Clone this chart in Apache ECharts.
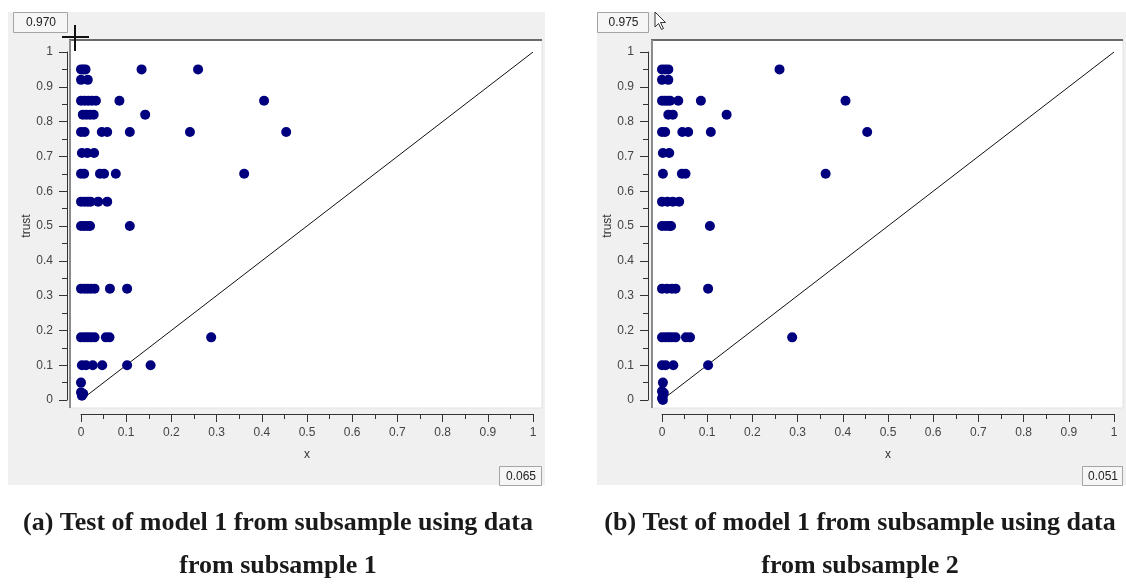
<!DOCTYPE html>
<html><head><meta charset="utf-8">
<script src="https://cdn.jsdelivr.net/npm/echarts@6/dist/echarts.min.js"></script>
<style>html,body{margin:0;padding:0;background:#fff}#c{width:1126px;height:588px}</style>
</head><body><div id="c"></div>
<script>
// ---- data ----
// panel (a): [x, trust]
const panelA = [
  [0,0.95],[0.005,0.95],[0.01,0.95],[0.134,0.95],[0.259,0.95],
  [0,0.92],[0.015,0.92],
  [0,0.86],[0.008,0.86],[0.016,0.86],[0.024,0.86],[0.033,0.86],[0.085,0.86],[0.405,0.86],
  [0.004,0.82],[0.012,0.82],[0.02,0.82],[0.028,0.82],[0.142,0.82],
  [0,0.77],[0.008,0.77],[0.046,0.77],[0.058,0.77],[0.108,0.77],[0.241,0.77],[0.454,0.77],
  [0.002,0.71],[0.014,0.71],[0.029,0.71],
  [0,0.65],[0.007,0.65],[0.042,0.65],[0.051,0.65],[0.077,0.65],[0.361,0.65],
  [0,0.57],[0.008,0.57],[0.015,0.57],[0.021,0.57],[0.038,0.57],[0.058,0.57],
  [0,0.5],[0.007,0.5],[0.014,0.5],[0.02,0.5],[0.108,0.5],
  [0,0.32],[0.008,0.32],[0.015,0.32],[0.022,0.32],[0.03,0.32],[0.064,0.32],[0.102,0.32],
  [0,0.18],[0.008,0.18],[0.015,0.18],[0.022,0.18],[0.03,0.18],[0.055,0.18],[0.063,0.18],[0.288,0.18],
  [0.002,0.1],[0.011,0.1],[0.026,0.1],[0.047,0.1],[0.102,0.1],[0.154,0.1],
  [0,0.05],
  [0,0.022],[0.005,0.018],[0.002,0.012]
];
// panel (b): [x, trust]
const panelB = [
  [0,0.95],[0.007,0.95],[0.014,0.95],[0.26,0.95],
  [0,0.92],[0.014,0.92],
  [0,0.86],[0.006,0.86],[0.012,0.86],[0.018,0.86],[0.036,0.86],[0.086,0.86],[0.406,0.86],
  [0.014,0.82],[0.024,0.82],[0.143,0.82],
  [0,0.77],[0.007,0.77],[0.045,0.77],[0.058,0.77],[0.108,0.77],[0.454,0.77],
  [0.002,0.71],[0.016,0.71],
  [0.002,0.65],[0.044,0.65],[0.052,0.65],[0.362,0.65],
  [0,0.57],[0.012,0.57],[0.024,0.57],[0.038,0.57],
  [0,0.5],[0.008,0.5],[0.016,0.5],[0.02,0.5],[0.106,0.5],
  [0,0.32],[0.011,0.32],[0.022,0.32],[0.03,0.32],[0.102,0.32],
  [0,0.18],[0.008,0.18],[0.015,0.18],[0.022,0.18],[0.03,0.18],[0.053,0.18],[0.062,0.18],[0.288,0.18],
  [0,0.1],[0.008,0.1],[0.025,0.1],[0.102,0.1],
  [0.002,0.05],
  [0,0.025],[0.004,0.02],[0.002,0.012],[0,0.005],[0.002,0]
];
const diagonal = [[0,0],[1,1]];
const topValues = ['0.970','0.975'];
const bottomValues = ['0.065','0.051'];
const captionLine1 = ['(a) Test of model 1 from subsample using data','(b) Test of model 1 from subsample using data'];
const captionLine2 = ['from subsample 1','from subsample 2'];
const xName = 'x', yName = 'trust';

// ---- chart ----
const axisColor = '#333';
const labelStyle = {color:'#444', fontFamily:'Liberation Sans', fontSize:12};
function xAxisCfg(gi){
  return {gridIndex:gi, type:'value', min:0, max:1, interval:0.1, offset:14,
    name:xName, nameLocation:'middle', nameGap:35,
    nameTextStyle:{color:'#333', fontFamily:'Liberation Sans', fontSize:12},
    axisLine:{show:true, onZero:false, lineStyle:{color:axisColor, width:1}},
    axisTick:{show:true, length:8, lineStyle:{color:axisColor}},
    minorTick:{show:true, splitNumber:2, length:5, lineStyle:{color:axisColor}},
    axisLabel:Object.assign({margin:13}, labelStyle),
    splitLine:{show:false}, minorSplitLine:{show:false}};
}
function yAxisCfg(gi){
  return {gridIndex:gi, type:'value', min:0, max:1, interval:0.1, offset:14,
    name:yName, nameLocation:'middle', nameGap:30,
    nameTextStyle:{color:'#333', fontFamily:'Liberation Sans', fontSize:12},
    axisLine:{show:true, onZero:false, lineStyle:{color:axisColor, width:1}},
    axisTick:{show:true, length:8, lineStyle:{color:axisColor}},
    minorTick:{show:true, splitNumber:2, length:5, lineStyle:{color:axisColor}},
    axisLabel:Object.assign({margin:14}, labelStyle),
    splitLine:{show:false}, minorSplitLine:{show:false}};
}
function scatter(i, data){
  return {type:'scatter', xAxisIndex:i, yAxisIndex:i, data:data, symbolSize:10, clip:false,
    itemStyle:{color:'#00007f', opacity:1}, z:5};
}
function diag(i){
  return {type:'line', xAxisIndex:i, yAxisIndex:i, data:diagonal, symbol:'none', silent:true,
    lineStyle:{color:'#111', width:1}, z:4};
}
const panels = [{gx:81, bgx:8, bgw:537, plotx:70, plotw:472, tb:[13,54], bb:[499,42]},
                {gx:662, bgx:597, bgw:529, plotx:652, plotw:471, tb:[597,51], bb:[1082,40]}];
const graphics = [];
panels.forEach((p,i)=>{
  graphics.push({type:'rect', z:-20, shape:{x:p.bgx, y:12, width:p.bgw, height:473}, style:{fill:'#f0f0f0'}});
  graphics.push({type:'rect', z:-19, shape:{x:p.plotx, y:40, width:p.plotw, height:368}, style:{fill:'#fff', stroke:'#e2e2e2', lineWidth:1}});
  graphics.push({type:'line', z:-18, shape:{x1:p.plotx-1, y1:40, x2:p.plotx+p.plotw, y2:40}, style:{stroke:'#6a6a6a', lineWidth:2}});
  graphics.push({type:'line', z:-18, shape:{x1:p.plotx, y1:40, x2:p.plotx, y2:408}, style:{stroke:'#8c8c8c', lineWidth:2}});
  graphics.push({type:'rect', z:10, shape:{x:p.tb[0]+0.5, y:12.5, width:p.tb[1], height:20}, style:{fill:'#f6f6f6', stroke:'#a4a4a4', lineWidth:1}});
  graphics.push({type:'text', z:11, x:p.tb[0]+p.tb[1]/2+1, y:23, style:{text:topValues[i], fill:'#222', font:'12px "Liberation Sans"', textAlign:'center', textVerticalAlign:'middle'}});
  graphics.push({type:'rect', z:10, shape:{x:p.bb[0]+0.5, y:466.5, width:p.bb[1], height:19}, style:{fill:'#f6f6f6', stroke:'#a4a4a4', lineWidth:1}});
  graphics.push({type:'text', z:11, x:p.bb[0]+p.bb[1]/2+1, y:476.5, style:{text:bottomValues[i], fill:'#222', font:'12px "Liberation Sans"', textAlign:'center', textVerticalAlign:'middle'}});
  const cx = i===0 ? 278 : 860;
  graphics.push({type:'text', z:11, x:cx, y:523, style:{text:captionLine1[i], fill:'#1a1a1a', font:'bold 26px "Liberation Serif"', textAlign:'center', textVerticalAlign:'middle'}});
  graphics.push({type:'text', z:11, x:cx, y:566, style:{text:captionLine2[i], fill:'#1a1a1a', font:'bold 26px "Liberation Serif"', textAlign:'center', textVerticalAlign:'middle'}});
});
// crosshair cursor (panel a) and arrow cursor (panel b)
graphics.push({type:'line', z:12, shape:{x1:62, y1:37, x2:89, y2:37}, style:{stroke:'#111', lineWidth:2}});
graphics.push({type:'line', z:12, shape:{x1:75, y1:25, x2:75, y2:51}, style:{stroke:'#111', lineWidth:2}});
graphics.push({type:'polygon', z:12, shape:{points:[[655,12],[655,27],[658.5,23.5],[661.5,29.5],[663.5,28.5],[660.5,22.5],[665.5,22.5]]}, style:{fill:'#fff', stroke:'#333', lineWidth:1}});

const option = {
  animation:false,
  backgroundColor:'#fff',
  grid:[{left:81, top:52, width:452, height:348}, {left:662, top:52, width:452, height:348}],
  xAxis:[xAxisCfg(0), xAxisCfg(1)],
  yAxis:[yAxisCfg(0), yAxisCfg(1)],
  series:[diag(0), scatter(0,panelA), diag(1), scatter(1,panelB)],
  graphic:{elements:graphics}
};
const chart = echarts.init(document.getElementById('c'), null, {renderer:'canvas'});
chart.setOption(option);
</script></body></html>
